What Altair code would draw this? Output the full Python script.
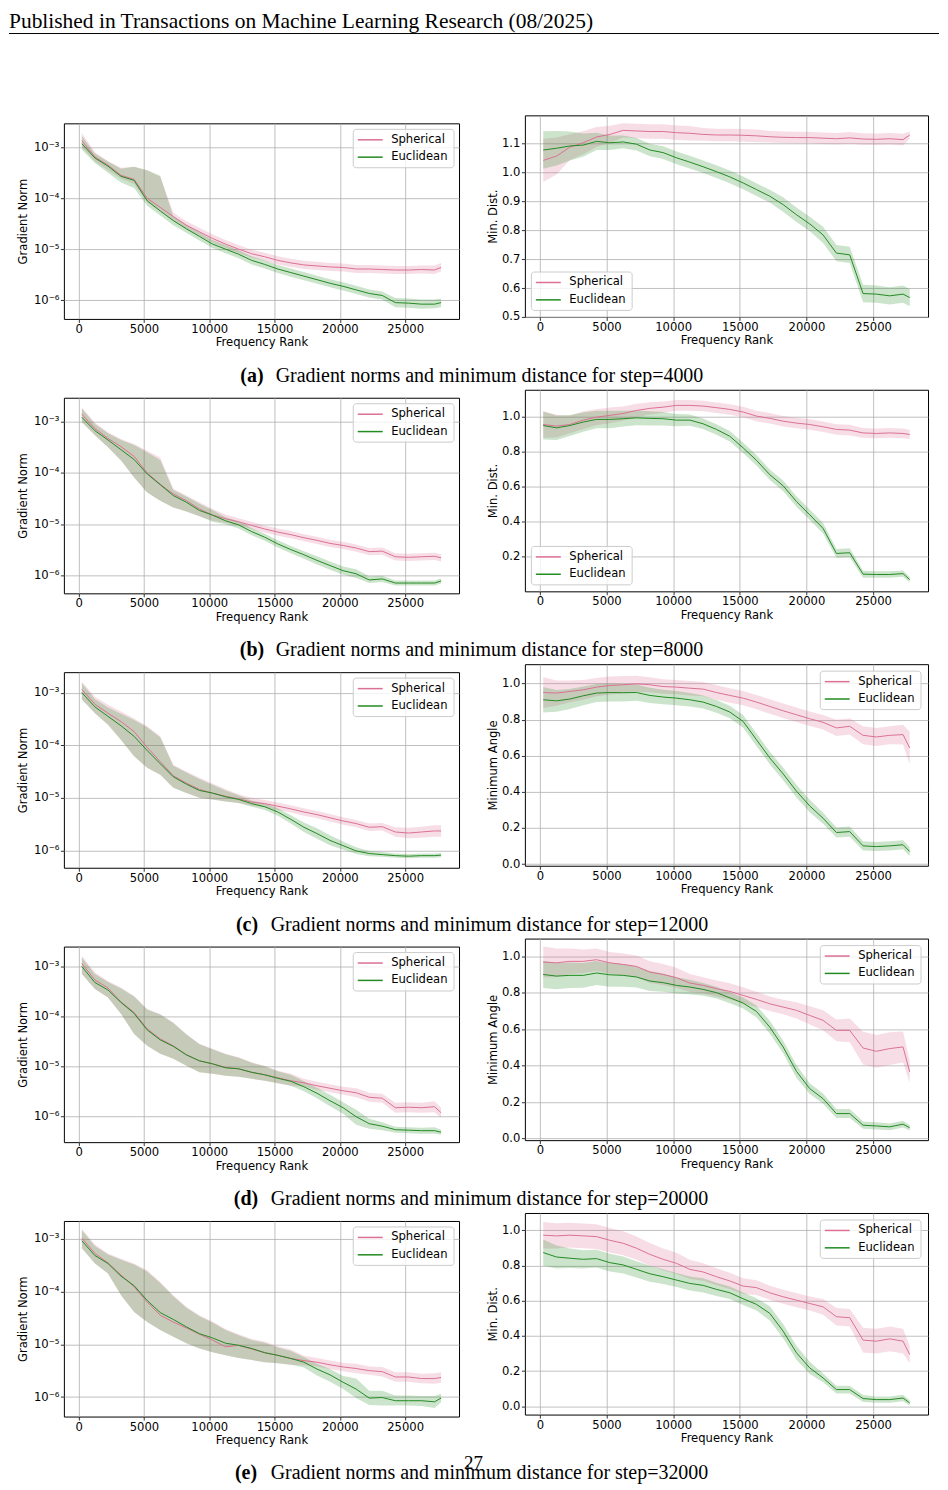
import altair as alt
import pandas as pd

HEADER = "Published in Transactions on Machine Learning Research (08/2025)"
PAGE_NUMBER = "27"
CAPTION_LABELS = ["(a)", "(b)", "(c)", "(d)", "(e)"]
CAPTION_TEXTS = [
    "Gradient norms and minimum distance for step=4000",
    "Gradient norms and minimum distance for step=8000",
    "Gradient norms and minimum distance for step=12000",
    "Gradient norms and minimum distance for step=20000",
    "Gradient norms and minimum distance for step=32000",
]
SERIES = ["Spherical", "Euclidean"]
X_TITLE = "Frequency Rank"
LEFT_TITLE = "Gradient Norm"
RIGHT_TITLES = ["Min. Dist.", "Min. Dist.", "Minimum Angle", "Minimum Angle", "Min. Dist."]
X_TICKS = [0, 5000, 10000, 15000, 20000, 25000]
GN_TICKS = [1e-6, 1e-5, 1e-4, 1e-3]

X = [250, 1250, 2250, 3250, 4250, 5250, 6250, 7250, 8250, 9250, 10250, 11250, 12250, 13250,
     14250, 15250, 16250, 17250, 18250, 19250, 20250, 21250, 22250, 23250, 24250, 25250,
     26250, 27250, 27750]

# ---- (a) step=4000 : gradient norm (log10 values) ----
A_GN_SPH = [-2.87, -3.19, -3.35, -3.55, -3.63, -4.00, -4.18, -4.36, -4.53, -4.66, -4.79, -4.90, -5.00, -5.09, -5.15, -5.22, -5.27, -5.31, -5.33, -5.35, -5.36, -5.39, -5.39, -5.40, -5.41, -5.41, -5.40, -5.41, -5.36]
A_GN_SPH_LO = [-3.00, -3.28, -3.45, -3.62, -3.72, -4.08, -4.26, -4.44, -4.61, -4.74, -4.87, -4.98, -5.08, -5.17, -5.23, -5.30, -5.35, -5.39, -5.41, -5.43, -5.44, -5.47, -5.47, -5.48, -5.49, -5.49, -5.48, -5.49, -5.44]
A_GN_SPH_HI = [-2.72, -3.10, -3.27, -3.40, -3.38, -3.45, -3.58, -4.28, -4.45, -4.58, -4.71, -4.82, -4.92, -5.01, -5.07, -5.14, -5.19, -5.23, -5.25, -5.27, -5.28, -5.31, -5.31, -5.32, -5.33, -5.33, -5.32, -5.32, -5.27]
A_GN_EUC = [-2.93, -3.21, -3.37, -3.57, -3.65, -4.05, -4.25, -4.44, -4.60, -4.75, -4.90, -5.00, -5.10, -5.22, -5.30, -5.39, -5.46, -5.53, -5.60, -5.67, -5.73, -5.80, -5.87, -5.91, -6.05, -6.06, -6.08, -6.08, -6.05]
A_GN_EUC_LO = [-3.05, -3.31, -3.50, -3.69, -3.80, -4.15, -4.34, -4.53, -4.68, -4.83, -4.98, -5.08, -5.18, -5.30, -5.38, -5.47, -5.54, -5.61, -5.68, -5.75, -5.81, -5.88, -5.95, -5.99, -6.14, -6.15, -6.17, -6.16, -6.14]
A_GN_EUC_HI = [-2.78, -3.12, -3.28, -3.42, -3.38, -3.45, -3.56, -4.36, -4.52, -4.67, -4.82, -4.92, -5.02, -5.14, -5.22, -5.31, -5.38, -5.45, -5.52, -5.59, -5.65, -5.72, -5.79, -5.83, -5.96, -5.97, -5.99, -5.99, -5.97]
# ---- (a) min distance ----
A_R_SPH = [1.042, 1.057, 1.088, 1.103, 1.123, 1.132, 1.146, 1.144, 1.142, 1.142, 1.138, 1.136, 1.132, 1.130, 1.130, 1.129, 1.127, 1.124, 1.122, 1.121, 1.121, 1.119, 1.117, 1.120, 1.116, 1.115, 1.117, 1.114, 1.130]
A_R_SPH_SD = [0.075, 0.064, 0.045, 0.040, 0.035, 0.030, 0.025, 0.025, 0.025, 0.025, 0.025, 0.025, 0.022, 0.022, 0.022, 0.022, 0.022, 0.020, 0.020, 0.020, 0.020, 0.020, 0.020, 0.020, 0.020, 0.020, 0.020, 0.020, 0.012]
A_R_EUC = [1.078, 1.084, 1.092, 1.095, 1.108, 1.103, 1.106, 1.098, 1.078, 1.069, 1.051, 1.036, 1.020, 1.003, 0.985, 0.964, 0.941, 0.918, 0.889, 0.854, 0.822, 0.784, 0.721, 0.715, 0.581, 0.579, 0.573, 0.579, 0.567]
A_R_EUC_SD = [0.065, 0.060, 0.050, 0.040, 0.030, 0.025, 0.022, 0.022, 0.022, 0.022, 0.022, 0.022, 0.022, 0.022, 0.022, 0.022, 0.022, 0.022, 0.025, 0.025, 0.025, 0.028, 0.028, 0.028, 0.030, 0.030, 0.030, 0.030, 0.030]

# ---- (b) step=8000 ----
B_GN_SPH = [-2.86, -3.14, -3.33, -3.49, -3.68, -4.00, -4.22, -4.41, -4.54, -4.70, -4.82, -4.89, -4.95, -5.02, -5.09, -5.15, -5.20, -5.26, -5.31, -5.37, -5.41, -5.46, -5.53, -5.52, -5.63, -5.64, -5.63, -5.62, -5.65]
B_GN_SPH_LO = [-3.00, -3.27, -3.50, -3.76, -4.09, -4.38, -4.54, -4.67, -4.75, -4.84, -4.93, -4.97, -5.02, -5.09, -5.16, -5.22, -5.27, -5.33, -5.38, -5.44, -5.48, -5.53, -5.60, -5.59, -5.70, -5.71, -5.70, -5.69, -5.72]
B_GN_SPH_HI = [-2.73, -3.02, -3.21, -3.34, -3.44, -3.57, -3.70, -4.31, -4.44, -4.57, -4.70, -4.81, -4.88, -4.95, -5.02, -5.08, -5.13, -5.19, -5.24, -5.30, -5.34, -5.39, -5.46, -5.45, -5.56, -5.57, -5.56, -5.55, -5.58]
B_GN_EUC = [-2.92, -3.18, -3.36, -3.55, -3.74, -4.02, -4.23, -4.44, -4.57, -4.73, -4.82, -4.93, -5.01, -5.14, -5.25, -5.38, -5.49, -5.59, -5.70, -5.80, -5.90, -5.96, -6.08, -6.06, -6.14, -6.14, -6.14, -6.14, -6.10]
B_GN_EUC_LO = [-3.02, -3.27, -3.50, -3.76, -4.09, -4.38, -4.54, -4.67, -4.75, -4.84, -4.95, -5.00, -5.08, -5.21, -5.32, -5.45, -5.56, -5.67, -5.78, -5.88, -5.98, -6.04, -6.14, -6.12, -6.19, -6.19, -6.19, -6.19, -6.15]
B_GN_EUC_HI = [-2.75, -3.05, -3.23, -3.36, -3.46, -3.60, -3.75, -4.33, -4.46, -4.60, -4.72, -4.86, -4.94, -5.07, -5.18, -5.31, -5.42, -5.52, -5.62, -5.72, -5.82, -5.87, -6.01, -6.00, -6.09, -6.09, -6.09, -6.09, -6.05]
B_R_SPH = [0.954, 0.945, 0.954, 0.979, 0.996, 1.006, 1.017, 1.034, 1.046, 1.053, 1.063, 1.063, 1.059, 1.050, 1.040, 1.025, 1.002, 0.989, 0.973, 0.962, 0.954, 0.941, 0.926, 0.922, 0.906, 0.903, 0.906, 0.903, 0.897]
B_R_SPH_SD = [0.075, 0.065, 0.050, 0.050, 0.045, 0.045, 0.040, 0.038, 0.035, 0.032, 0.030, 0.030, 0.030, 0.030, 0.030, 0.030, 0.030, 0.030, 0.030, 0.030, 0.030, 0.030, 0.030, 0.030, 0.028, 0.028, 0.028, 0.028, 0.025]
B_R_EUC = [0.948, 0.935, 0.948, 0.968, 0.983, 0.983, 0.987, 0.992, 0.989, 0.987, 0.979, 0.979, 0.958, 0.926, 0.887, 0.821, 0.750, 0.668, 0.605, 0.515, 0.439, 0.362, 0.219, 0.223, 0.101, 0.099, 0.099, 0.104, 0.070]
B_R_EUC_SD = [0.080, 0.070, 0.060, 0.055, 0.050, 0.050, 0.045, 0.042, 0.040, 0.038, 0.035, 0.032, 0.030, 0.030, 0.030, 0.030, 0.030, 0.030, 0.030, 0.030, 0.030, 0.030, 0.025, 0.025, 0.020, 0.018, 0.018, 0.018, 0.015]

# ---- (c) step=12000 ----
C_GN_SPH = [-2.94, -3.22, -3.39, -3.55, -3.74, -4.04, -4.31, -4.58, -4.72, -4.84, -4.91, -4.97, -5.02, -5.08, -5.11, -5.16, -5.21, -5.27, -5.32, -5.38, -5.44, -5.49, -5.56, -5.55, -5.65, -5.67, -5.65, -5.63, -5.63]
C_GN_SPH_LO = [-3.13, -3.39, -3.61, -3.90, -4.21, -4.43, -4.56, -4.81, -4.91, -5.00, -5.03, -5.07, -5.10, -5.15, -5.18, -5.23, -5.28, -5.34, -5.39, -5.45, -5.51, -5.56, -5.63, -5.62, -5.74, -5.77, -5.76, -5.74, -5.74]
C_GN_SPH_HI = [-2.79, -3.08, -3.23, -3.36, -3.49, -3.64, -3.83, -4.37, -4.50, -4.62, -4.73, -4.83, -4.93, -5.00, -5.04, -5.09, -5.14, -5.20, -5.25, -5.31, -5.37, -5.42, -5.49, -5.48, -5.56, -5.57, -5.55, -5.52, -5.52]
C_GN_EUC = [-3.00, -3.27, -3.45, -3.63, -3.83, -4.10, -4.35, -4.60, -4.74, -4.86, -4.91, -4.98, -5.03, -5.11, -5.17, -5.27, -5.41, -5.56, -5.68, -5.81, -5.91, -6.01, -6.06, -6.08, -6.10, -6.11, -6.10, -6.10, -6.09]
C_GN_EUC_LO = [-3.13, -3.39, -3.61, -3.90, -4.21, -4.43, -4.56, -4.81, -4.91, -5.00, -5.03, -5.07, -5.10, -5.17, -5.23, -5.34, -5.49, -5.65, -5.78, -5.90, -5.99, -6.07, -6.11, -6.12, -6.14, -6.15, -6.14, -6.14, -6.13]
C_GN_EUC_HI = [-2.82, -3.12, -3.28, -3.40, -3.52, -3.66, -3.85, -4.39, -4.52, -4.64, -4.75, -4.86, -4.95, -5.05, -5.11, -5.20, -5.33, -5.47, -5.58, -5.71, -5.83, -5.94, -6.01, -6.03, -6.06, -6.07, -6.06, -6.06, -6.05]
C_R_SPH = [0.950, 0.947, 0.956, 0.965, 0.980, 0.989, 0.993, 0.998, 0.993, 0.983, 0.980, 0.974, 0.969, 0.950, 0.934, 0.919, 0.897, 0.873, 0.849, 0.827, 0.805, 0.785, 0.754, 0.763, 0.713, 0.704, 0.713, 0.717, 0.643]
C_R_SPH_SD = [0.085, 0.070, 0.060, 0.055, 0.050, 0.050, 0.048, 0.045, 0.042, 0.040, 0.040, 0.040, 0.040, 0.040, 0.040, 0.040, 0.040, 0.040, 0.040, 0.040, 0.040, 0.040, 0.045, 0.045, 0.050, 0.050, 0.050, 0.055, 0.090]
C_R_EUC = [0.910, 0.904, 0.914, 0.932, 0.947, 0.950, 0.949, 0.950, 0.934, 0.925, 0.919, 0.910, 0.897, 0.873, 0.842, 0.790, 0.689, 0.588, 0.500, 0.404, 0.322, 0.254, 0.175, 0.180, 0.101, 0.097, 0.101, 0.107, 0.070]
C_R_EUC_SD = [0.070, 0.060, 0.055, 0.052, 0.050, 0.050, 0.048, 0.045, 0.042, 0.040, 0.040, 0.038, 0.036, 0.035, 0.035, 0.035, 0.035, 0.035, 0.035, 0.035, 0.035, 0.030, 0.028, 0.028, 0.025, 0.025, 0.025, 0.025, 0.025]

# ---- (d) step=20000 ----
D_GN_SPH = [-2.94, -3.27, -3.43, -3.71, -3.92, -4.25, -4.45, -4.59, -4.77, -4.89, -4.95, -5.02, -5.05, -5.12, -5.17, -5.23, -5.29, -5.33, -5.39, -5.44, -5.49, -5.53, -5.62, -5.64, -5.83, -5.82, -5.83, -5.81, -5.93]
D_GN_SPH_LO = [-3.15, -3.45, -3.62, -3.95, -4.35, -4.59, -4.75, -4.85, -4.99, -5.12, -5.15, -5.19, -5.21, -5.25, -5.29, -5.34, -5.39, -5.41, -5.47, -5.52, -5.57, -5.62, -5.71, -5.73, -5.93, -5.92, -5.93, -5.92, -6.03]
D_GN_SPH_HI = [-2.79, -3.12, -3.29, -3.42, -3.59, -3.85, -3.95, -4.12, -4.35, -4.55, -4.65, -4.75, -4.82, -4.92, -4.99, -5.09, -5.15, -5.25, -5.31, -5.36, -5.41, -5.44, -5.53, -5.55, -5.73, -5.72, -5.73, -5.70, -5.83]
D_GN_EUC = [-3.00, -3.32, -3.47, -3.72, -3.94, -4.27, -4.47, -4.60, -4.77, -4.89, -4.95, -5.03, -5.05, -5.12, -5.17, -5.24, -5.30, -5.41, -5.54, -5.69, -5.83, -6.01, -6.15, -6.20, -6.27, -6.28, -6.29, -6.29, -6.32]
D_GN_EUC_LO = [-3.15, -3.45, -3.62, -3.95, -4.35, -4.59, -4.75, -4.85, -4.99, -5.12, -5.15, -5.19, -5.21, -5.25, -5.29, -5.34, -5.39, -5.50, -5.64, -5.80, -5.95, -6.17, -6.25, -6.28, -6.33, -6.34, -6.35, -6.35, -6.37]
D_GN_EUC_HI = [-2.82, -3.15, -3.31, -3.44, -3.60, -3.86, -3.96, -4.13, -4.36, -4.56, -4.66, -4.76, -4.83, -4.93, -5.00, -5.10, -5.17, -5.30, -5.43, -5.57, -5.72, -5.87, -6.05, -6.12, -6.21, -6.22, -6.23, -6.22, -6.27]
D_R_SPH = [0.969, 0.965, 0.973, 0.973, 0.982, 0.965, 0.956, 0.945, 0.914, 0.901, 0.883, 0.854, 0.841, 0.823, 0.808, 0.786, 0.764, 0.740, 0.722, 0.704, 0.676, 0.649, 0.594, 0.594, 0.497, 0.479, 0.494, 0.503, 0.366]
D_R_SPH_SD = [0.085, 0.078, 0.070, 0.065, 0.062, 0.060, 0.060, 0.060, 0.060, 0.058, 0.055, 0.050, 0.045, 0.045, 0.045, 0.045, 0.042, 0.040, 0.040, 0.045, 0.050, 0.055, 0.060, 0.065, 0.090, 0.090, 0.090, 0.085, 0.060]
D_R_EUC = [0.901, 0.892, 0.896, 0.896, 0.909, 0.899, 0.896, 0.887, 0.865, 0.856, 0.841, 0.832, 0.819, 0.801, 0.773, 0.744, 0.698, 0.612, 0.503, 0.369, 0.274, 0.219, 0.137, 0.137, 0.073, 0.069, 0.064, 0.079, 0.059]
D_R_EUC_SD = [0.075, 0.072, 0.070, 0.068, 0.066, 0.065, 0.062, 0.058, 0.055, 0.050, 0.045, 0.040, 0.035, 0.032, 0.030, 0.030, 0.032, 0.035, 0.035, 0.035, 0.030, 0.028, 0.025, 0.025, 0.020, 0.020, 0.018, 0.018, 0.015]

# ---- (e) step=32000 ----
E_GN_SPH = [-2.99, -3.28, -3.46, -3.69, -3.91, -4.20, -4.45, -4.58, -4.69, -4.81, -4.92, -5.05, -5.02, -5.09, -5.16, -5.21, -5.27, -5.31, -5.34, -5.39, -5.43, -5.46, -5.50, -5.52, -5.62, -5.62, -5.65, -5.65, -5.63]
E_GN_SPH_LO = [-3.18, -3.47, -3.66, -4.07, -4.39, -4.58, -4.73, -4.86, -4.98, -5.08, -5.15, -5.21, -5.26, -5.30, -5.34, -5.36, -5.39, -5.40, -5.42, -5.47, -5.51, -5.55, -5.58, -5.61, -5.71, -5.71, -5.74, -5.75, -5.73]
E_GN_SPH_HI = [-2.81, -3.11, -3.28, -3.38, -3.47, -3.60, -3.82, -4.07, -4.29, -4.45, -4.57, -4.71, -4.81, -4.90, -4.95, -5.04, -5.10, -5.22, -5.26, -5.31, -5.35, -5.37, -5.42, -5.43, -5.53, -5.53, -5.56, -5.55, -5.53]
E_GN_EUC = [-3.04, -3.32, -3.47, -3.71, -3.89, -4.17, -4.40, -4.53, -4.67, -4.80, -4.88, -4.98, -5.02, -5.08, -5.16, -5.21, -5.27, -5.34, -5.47, -5.58, -5.72, -5.85, -6.02, -6.01, -6.07, -6.07, -6.07, -6.09, -6.02]
E_GN_EUC_LO = [-3.18, -3.47, -3.66, -4.07, -4.39, -4.58, -4.73, -4.86, -4.98, -5.08, -5.15, -5.21, -5.26, -5.30, -5.34, -5.36, -5.39, -5.44, -5.59, -5.71, -5.85, -6.02, -6.15, -6.16, -6.16, -6.16, -6.17, -6.21, -6.10]
E_GN_EUC_HI = [-2.84, -3.14, -3.30, -3.40, -3.49, -3.62, -3.84, -4.09, -4.31, -4.47, -4.59, -4.73, -4.83, -4.92, -4.97, -5.06, -5.13, -5.24, -5.37, -5.47, -5.60, -5.65, -5.88, -5.88, -5.97, -5.97, -5.98, -5.98, -5.94]
E_R_SPH = [0.972, 0.968, 0.972, 0.968, 0.964, 0.943, 0.926, 0.898, 0.863, 0.835, 0.812, 0.778, 0.763, 0.736, 0.712, 0.683, 0.674, 0.645, 0.622, 0.603, 0.584, 0.565, 0.509, 0.503, 0.376, 0.370, 0.383, 0.370, 0.294]
E_R_SPH_SD = [0.075, 0.072, 0.070, 0.070, 0.070, 0.070, 0.068, 0.066, 0.065, 0.062, 0.060, 0.055, 0.050, 0.048, 0.046, 0.045, 0.042, 0.040, 0.040, 0.040, 0.040, 0.045, 0.050, 0.050, 0.070, 0.070, 0.070, 0.070, 0.050]
E_R_EUC = [0.873, 0.848, 0.841, 0.835, 0.839, 0.816, 0.803, 0.778, 0.753, 0.736, 0.717, 0.698, 0.687, 0.664, 0.645, 0.611, 0.579, 0.528, 0.427, 0.304, 0.218, 0.161, 0.095, 0.095, 0.044, 0.038, 0.038, 0.047, 0.019]
E_R_EUC_SD = [0.075, 0.065, 0.055, 0.052, 0.050, 0.050, 0.048, 0.046, 0.045, 0.042, 0.040, 0.040, 0.040, 0.038, 0.036, 0.035, 0.035, 0.040, 0.040, 0.040, 0.035, 0.025, 0.022, 0.022, 0.020, 0.018, 0.018, 0.018, 0.015]

# axis limits (log10 for gradient norm panels)
GN_LIMITS = [(-6.37, -2.53), (-6.34, -2.54), (-6.33, -2.61), (-6.52, -2.60), (-6.37, -2.665)]
R_LIMITS = [(0.5, 1.198), (0.003, 1.152), (-0.009, 1.107), (-0.009, 1.098), (-0.047, 1.098)]
R_TICKS = [
    [0.5, 0.6, 0.7, 0.8, 0.9, 1.0, 1.1],
    [0.2, 0.4, 0.6, 0.8, 1.0],
    [0.0, 0.2, 0.4, 0.6, 0.8, 1.0],
    [0.0, 0.2, 0.4, 0.6, 0.8, 1.0],
    [0.0, 0.2, 0.4, 0.6, 0.8, 1.0],
]
# legend box corner (in panel pixels) for each right panel; left panels all top-right
R_LEGEND_POS = [(6.5, 157), (6.5, 157), (296, 7), (296, 7), (296, 7)]
L_LEGEND_POS = (290, 6)
CAP_BOLD_CX = [243.5, 243.5, 238.5, 237.5, 237.5]

PINK = "#db7093"
GREEN = "#228b22"
COLORS = [PINK, GREEN]
X_DOMAIN = [-1125, 29125]
FONT = "DejaVu Sans"
SERIF = "Liberation Serif"
FS = 11.6

GN = {
    "A": (A_GN_SPH, A_GN_SPH_LO, A_GN_SPH_HI, A_GN_EUC, A_GN_EUC_LO, A_GN_EUC_HI),
    "B": (B_GN_SPH, B_GN_SPH_LO, B_GN_SPH_HI, B_GN_EUC, B_GN_EUC_LO, B_GN_EUC_HI),
    "C": (C_GN_SPH, C_GN_SPH_LO, C_GN_SPH_HI, C_GN_EUC, C_GN_EUC_LO, C_GN_EUC_HI),
    "D": (D_GN_SPH, D_GN_SPH_LO, D_GN_SPH_HI, D_GN_EUC, D_GN_EUC_LO, D_GN_EUC_HI),
    "E": (E_GN_SPH, E_GN_SPH_LO, E_GN_SPH_HI, E_GN_EUC, E_GN_EUC_LO, E_GN_EUC_HI),
}
RD = {
    "A": (A_R_SPH, A_R_SPH_SD, A_R_EUC, A_R_EUC_SD),
    "B": (B_R_SPH, B_R_SPH_SD, B_R_EUC, B_R_EUC_SD),
    "C": (C_R_SPH, C_R_SPH_SD, C_R_EUC, C_R_EUC_SD),
    "D": (D_R_SPH, D_R_SPH_SD, D_R_EUC, D_R_EUC_SD),
    "E": (E_R_SPH, E_R_SPH_SD, E_R_EUC, E_R_EUC_SD),
}

NOFRAME = alt.ViewBackground(stroke="transparent")
one = pd.DataFrame({"v": [0]})


def legend_layers(bx, by):
    base = alt.Chart(one)
    layers = [base.mark_rect(fill="white", fillOpacity=0.8, stroke="#cccccc", strokeWidth=1,
                             cornerRadius=3).encode(
        x=alt.value(bx), x2=alt.value(bx + 101), y=alt.value(by), y2=alt.value(by + 38.5))]
    for k, (name, col) in enumerate(zip(SERIES, COLORS)):
        yy = by + 10.5 + 17.4 * k
        layers.append(base.mark_rule(color=col, strokeWidth=1.5).encode(
            x=alt.value(bx + 4.5), x2=alt.value(bx + 29.5), y=alt.value(yy)))
        layers.append(base.mark_text(font=FONT, fontSize=FS, align="left", baseline="middle",
                                     color="black").encode(
            x=alt.value(bx + 38), y=alt.value(yy), text=alt.value(name)))
    return layers


def x_enc():
    return alt.X(
        "x:Q", scale=alt.Scale(domain=X_DOMAIN, nice=False, zero=False),
        axis=alt.Axis(values=X_TICKS, format="d", title=X_TITLE, minExtent=16,
                      maxExtent=16, titlePadding=2, labelPadding=1),
    )


def panel(df, yscale, yaxis, lpos, w, h):
    cs = alt.Scale(domain=SERIES, range=COLORS)
    band = alt.Chart(df).mark_area(opacity=0.23).encode(
        x=x_enc(), y=alt.Y("lo:Q", scale=yscale, axis=yaxis), y2="hi:Q",
        fill=alt.Fill("series:N", scale=cs, legend=None),
    )
    line = alt.Chart(df).mark_line(strokeWidth=1).encode(
        x=x_enc(), y=alt.Y("m:Q", scale=yscale, axis=yaxis),
        color=alt.Color("series:N", scale=cs, legend=None),
    )
    return alt.layer(band, line, *legend_layers(*lpos)).properties(width=w, height=h)


def gn_panel(key, i):
    s, slo, shi, e, elo, ehi = GN[key]
    n = len(X)
    df = pd.DataFrame({
        "x": X + X,
        "series": ["Spherical"] * n + ["Euclidean"] * n,
        "m": [10 ** v for v in s + e],
        "lo": [10 ** v for v in slo + elo],
        "hi": [10 ** v for v in shi + ehi],
    })
    lo, hi = GN_LIMITS[i]
    ys = alt.Scale(type="log", domain=[10 ** lo, 10 ** hi], nice=False)
    ya = alt.Axis(
        values=GN_TICKS, title=LEFT_TITLE, minExtent=31, maxExtent=31, titlePadding=4,
        labelPadding=1.5,
        labelExpr="datum.value < 3e-6 ? '10\u207b\u2076' : datum.value < 3e-5 ? '10\u207b\u2075' : datum.value < 3e-4 ? '10\u207b\u2074' : '10\u207b\u00b3'",
    )
    return panel(df, ys, ya, L_LEGEND_POS, 396, 196)


def r_panel(key, i):
    s, ssd, e, esd = RD[key]
    n = len(X)
    df = pd.DataFrame({
        "x": X + X,
        "series": ["Spherical"] * n + ["Euclidean"] * n,
        "m": s + e,
        "lo": [a - b for a, b in zip(s, ssd)] + [a - b for a, b in zip(e, esd)],
        "hi": [a + b for a, b in zip(s, ssd)] + [a + b for a, b in zip(e, esd)],
    })
    lo, hi = R_LIMITS[i]
    ys = alt.Scale(domain=[lo, hi], nice=False, zero=False)
    ya = alt.Axis(values=R_TICKS[i], format=".1f", title=RIGHT_TITLES[i], minExtent=23,
                  maxExtent=23, titlePadding=3, labelPadding=1.5)
    return panel(df, ys, ya, R_LEGEND_POS[i], 404, 202)


def spacer(w, h):
    return alt.Chart(one).mark_rect(opacity=0).encode(
        x=alt.value(0), x2=alt.value(w), y=alt.value(0), y2=alt.value(h)
    ).properties(width=w, height=h, view=NOFRAME)


def make_row(left, right):
    col = alt.vconcat(spacer(1, 1), left, spacing=5).resolve_scale(
        color="independent", fill="independent")
    lp = alt.hconcat(spacer(7, 1), col, spacing=0).resolve_scale(
        color="independent", fill="independent")
    return alt.hconcat(lp, right, spacing=27).resolve_scale(
        color="independent", fill="independent")


def caption(i, h, ytxt, page=False):
    base = alt.Chart(one)
    layers = [
        base.mark_text(font=SERIF, fontSize=20, fontWeight="bold", align="center",
                       baseline="middle", color="black").encode(
            x=alt.value(CAP_BOLD_CX[i]), y=alt.value(ytxt), text=alt.value(CAPTION_LABELS[i])),
        base.mark_text(font=SERIF, fontSize=20, align="center", baseline="middle",
                       color="black").encode(
            x=alt.value(481.5), y=alt.value(ytxt), text=alt.value(CAPTION_TEXTS[i])),
    ]
    if page:
        layers.append(base.mark_text(font=SERIF, fontSize=19, align="center", baseline="middle",
                                     color="black").encode(
            x=alt.value(465.5), y=alt.value(ytxt - 10), text=alt.value(PAGE_NUMBER)))
    return alt.layer(*layers).properties(width=932, height=h, view=NOFRAME)


header = alt.layer(
    alt.Chart(one).mark_text(font=SERIF, fontSize=21.5, align="left", baseline="top",
                             color="black").encode(
        x=alt.value(0), y=alt.value(0), text=alt.value(HEADER)),
    alt.Chart(one).mark_rule(color="black", strokeWidth=1).encode(
        x=alt.value(0), x2=alt.value(932), y=alt.value(23)),
).properties(width=932, height=103, view=NOFRAME)

parts = [header]
for i, key in enumerate(["A", "B", "C", "D", "E"]):
    parts.append(make_row(gn_panel(key, i), r_panel(key, i)))
    if i < 4:
        parts.append(caption(i, 37.25, 25))
    else:
        parts.append(caption(i, 28, 25, page=True))

chart = alt.vconcat(*parts, spacing=0).resolve_scale(
    color="independent", fill="independent").properties(
    padding=0
).configure(font=FONT).configure_view(stroke="black", strokeWidth=1).configure_axis(
    labelFont=FONT, labelFontSize=FS, titleFont=FONT, titleFontSize=FS,
    titleFontWeight="normal", labelColor="black", titleColor="black", tickColor="black",
    tickSize=3.5, tickWidth=0.8, gridColor="#b0b0b0", gridWidth=0.8, domain=False,
    labelFlush=False,
)

chart.save("out.html", embed_options={"renderer": "svg", "actions": False})
